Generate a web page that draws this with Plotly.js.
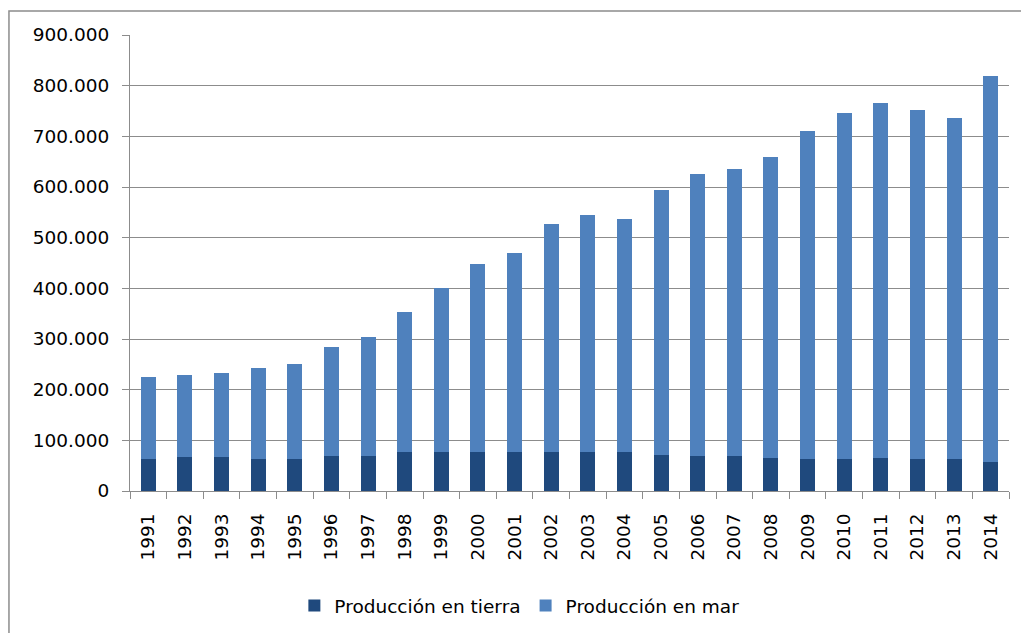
<!DOCTYPE html>
<html>
<head>
<meta charset="utf-8">
<script src="https://cdn.plot.ly/plotly-3.0.1.min.js"></script>
<style>
  html, body { margin: 0; padding: 0; background: #ffffff; }
  #chart { width: 1021px; height: 633px; }
</style>
</head>
<body>
<div id="chart"></div>
<script>
// Years on the category axis
const years = ['1991','1992','1993','1994','1995','1996','1997','1998','1999','2000',
               '2001','2002','2003','2004','2005','2006','2007','2008','2009','2010',
               '2011','2012','2013','2014'];

// Onshore production (bottom segment)
const produccionTierra = [64000, 67000, 67000, 64000, 64000, 70000, 70000, 76000, 76000, 76000,
                          76000, 76000, 76000, 76000, 72000, 69000, 69000, 66000, 63000, 63000,
                          66000, 63000, 63000, 58000];

// Offshore production (stacked on top)
const produccionMar = [161000, 161000, 165000, 178000, 186000, 214000, 234000, 277000, 324000, 373000,
                       393000, 451000, 468000, 461000, 522000, 557000, 567000, 594000, 647000, 684000,
                       699000, 688000, 674000, 761000];

const seriesNames = ['Producción en tierra', 'Producción en mar'];
const yTicks = [0, 100000, 200000, 300000, 400000, 500000, 600000, 700000, 800000, 900000];

const gridGray = '#8c8c8c';
const labelFont = { family: 'DejaVu Sans, Verdana, sans-serif', size: 18.5, color: '#000000' };

const traces = [
  {
    type: 'bar',
    name: seriesNames[0],
    x: years,
    y: produccionTierra,
    marker: { color: '#1f497d' },
    hoverinfo: 'skip'
  },
  {
    type: 'bar',
    name: seriesNames[1],
    x: years,
    y: produccionMar,
    marker: { color: '#4f81bd' },
    hoverinfo: 'skip'
  }
];

const layout = {
  width: 1021,
  height: 633,
  margin: { l: 130, r: 12, t: 35, b: 142, autoexpand: false },
  paper_bgcolor: '#ffffff',
  plot_bgcolor: '#ffffff',
  barmode: 'stack',
  bargap: 0.59,
  separators: ',.',
  showlegend: true,
  legend: {
    orientation: 'h',
    traceorder: 'normal',
    x: 0.187,
    xanchor: 'left',
    y: -0.252,
    yanchor: 'middle',
    font: { family: 'DejaVu Sans, Verdana, sans-serif', size: 18.5, color: '#000000' },
    itemclick: false,
    itemdoubleclick: false
  },
  xaxis: {
    type: 'category',
    tickangle: -90,
    ticks: 'outside',
    tickson: 'boundaries',
    ticklen: 7,
    tickcolor: gridGray,
    ticklabelstandoff: 14,
    showline: true,
    linecolor: gridGray,
    linewidth: 1,
    showgrid: false,
    tickfont: labelFont,
    fixedrange: true
  },
  yaxis: {
    range: [0, 900000],
    tickvals: yTicks,
    tickformat: ',d',
    ticks: 'outside',
    ticklen: 7,
    tickcolor: gridGray,
    ticklabelstandoff: 9,
    showline: true,
    linecolor: gridGray,
    linewidth: 1,
    showgrid: true,
    gridcolor: gridGray,
    gridwidth: 1,
    zeroline: false,
    tickfont: labelFont,
    fixedrange: true
  },
  shapes: [
    {
      // chart frame, running off the right and bottom edges
      type: 'rect',
      xref: 'paper', yref: 'paper',
      x0: -0.1377, x1: 1.05,
      y0: -0.36, y1: 1.0526,
      line: { color: '#8c8c8c', width: 1.5 },
      fillcolor: 'rgba(0,0,0,0)',
      layer: 'below'
    }
  ]
};

Plotly.newPlot('chart', traces, layout, { displayModeBar: false, staticPlot: true });
</script>
</body>
</html>
